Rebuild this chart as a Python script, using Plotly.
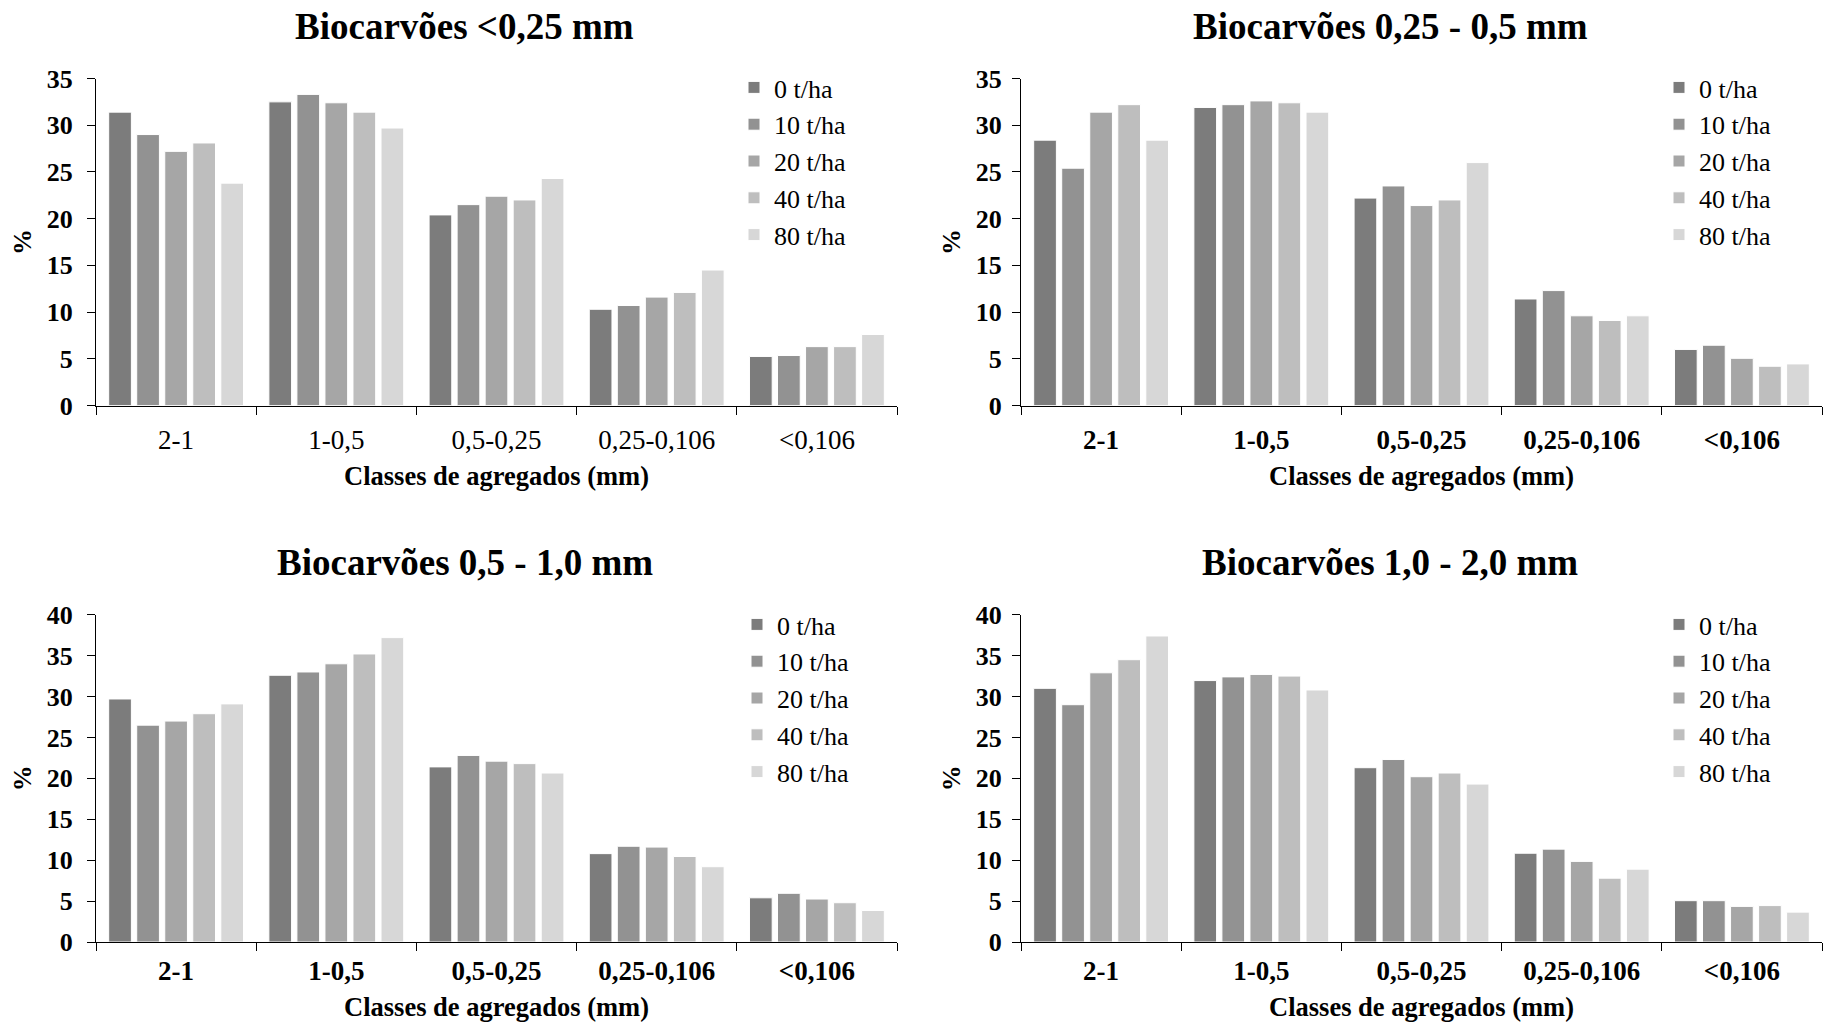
import plotly.graph_objects as go

categories = ["2-1", "1-0,5", "0,5-0,25", "0,25-0,106", "<0,106"]
doses = ["0 t/ha", "10 t/ha", "20 t/ha", "40 t/ha", "80 t/ha"]
colors = ["#7c7c7c", "#929292", "#a6a6a6", "#bebebe", "#d7d7d7"]

titles = ["Biocarvões <0,25 mm", "Biocarvões 0,25 - 0,5 mm",
          "Biocarvões 0,5 - 1,0 mm", "Biocarvões 1,0 - 2,0 mm"]

# values per dose (0, 10, 20, 40, 80 t/ha) across categories
panel_a = [
    [31.4, 32.5, 20.4, 10.3, 5.25],
    [29.0, 33.3, 21.5, 10.7, 5.35],
    [27.2, 32.4, 22.4, 11.6, 6.3],
    [28.1, 31.4, 22.0, 12.1, 6.3],
    [23.8, 29.7, 24.3, 14.5, 7.6],
]
panel_b = [
    [28.4, 31.9, 22.2, 11.4, 6.0],
    [25.4, 32.2, 23.5, 12.3, 6.45],
    [31.4, 32.6, 21.4, 9.6, 5.05],
    [32.2, 32.4, 22.0, 9.1, 4.2],
    [28.4, 31.4, 26.0, 9.6, 4.45],
]
panel_c = [
    [29.7, 32.6, 21.4, 10.8, 5.4],
    [26.5, 33.0, 22.8, 11.7, 5.95],
    [27.0, 34.0, 22.1, 11.6, 5.25],
    [27.9, 35.2, 21.8, 10.45, 4.8],
    [29.1, 37.2, 20.65, 9.2, 3.85],
]
panel_d = [
    [31.0, 31.95, 21.3, 10.85, 5.05],
    [29.0, 32.4, 22.3, 11.35, 5.05],
    [32.9, 32.7, 20.2, 9.85, 4.35],
    [34.5, 32.5, 20.65, 7.8, 4.45],
    [37.4, 30.8, 19.3, 8.9, 3.65],
]
panels = [panel_a, panel_b, panel_c, panel_d]
y_max = [35, 35, 40, 40]

W, H = 1823, 1025
FONT = "Liberation Serif"

# pixel boxes (left, right, top, bottom)
boxes = [
    (96, 897, 78.5, 405.5),
    (1021, 1822, 78.5, 405.5),
    (96, 897, 614.7, 942),
    (1021, 1822, 614.7, 942),
]
legend_pos = [(734, 64), (1659, 64), (737, 601), (1659, 601)]
title_x = [465, 1390, 465, 1390]
title_y = [26, 26, 562, 562]
xtick_standoff = [10, 10, 4, 4]
xtitle_standoff = [12, 12, 12, 12]
ytick_standoff = [9, 5, 9, 5]

fig = go.Figure()
layout = dict(
    width=W, height=H, margin=dict(l=0, r=0, t=0, b=0),
    paper_bgcolor="white", plot_bgcolor="white",
    barmode="group", bargap=0.125, bargroupgap=0.19,
    showlegend=True, font=dict(family=FONT, color="black"),
    annotations=[],
)

for p in range(4):
    sfx = "" if p == 0 else str(p + 1)
    for d in range(5):
        fig.add_trace(go.Bar(
            x=categories, y=panels[p][d], name=doses[d],
            marker=dict(color=colors[d], line=dict(width=1, color="white")),
            xaxis="x" + sfx, yaxis="y" + sfx,
            legend="legend" + sfx, legendgroup=f"g{p}_{d}",
        ))
    l, r, t, b = boxes[p]
    bold_ticks = p != 0
    layout["xaxis" + sfx] = dict(
        domain=[l / W, r / W], anchor="y" + sfx,
        type="category", tickson="boundaries",
        showline=True, linecolor="black", linewidth=1.3,
        ticks="outside", ticklen=8, tickcolor="black", tickwidth=1.3,
        ticklabelstandoff=xtick_standoff[p],
        tickfont=dict(family=FONT, size=27, color="black",
                      weight="bold" if bold_ticks else "normal"),
        title=dict(text="<b>Classes de agregados (mm)</b>",
                   standoff=xtitle_standoff[p],
                   font=dict(family=FONT, size=26.5, color="black")),
        showgrid=False, zeroline=False, automargin=False, fixedrange=True,
    )
    layout["yaxis" + sfx] = dict(
        domain=[1 - b / H, 1 - t / H], anchor="x" + sfx,
        range=[0, y_max[p]], dtick=5, tick0=0,
        showline=True, linecolor="black", linewidth=1.3,
        ticks="outside", ticklen=8, tickcolor="black", tickwidth=1.3,
        ticklabelstandoff=ytick_standoff[p],
        tickfont=dict(family=FONT, size=26, color="black", weight="bold"),
        title=dict(text="<b>%</b>", standoff=7,
                   font=dict(family=FONT, size=26, color="black")),
        showgrid=False, zeroline=False, automargin=False, fixedrange=True,
    )
    lx, ly = legend_pos[p]
    layout["legend" + sfx] = dict(
        x=lx / W, y=1 - ly / H, xanchor="left", yanchor="top",
        font=dict(family=FONT, size=26, color="black"),
        bgcolor="rgba(0,0,0,0)", borderwidth=0,
        tracegroupgap=0, itemclick=False, itemdoubleclick=False,
    )
    layout["annotations"].append(dict(
        text="<b>" + titles[p].replace("<", "&lt;") + "</b>",
        x=title_x[p] / W, y=1 - title_y[p] / H, xref="paper", yref="paper",
        xanchor="center", yanchor="middle", showarrow=False,
        font=dict(family=FONT, size=37, color="black"),
    ))

fig.update_layout(**layout)
fig.write_html("out.html", config={"displayModeBar": False})
